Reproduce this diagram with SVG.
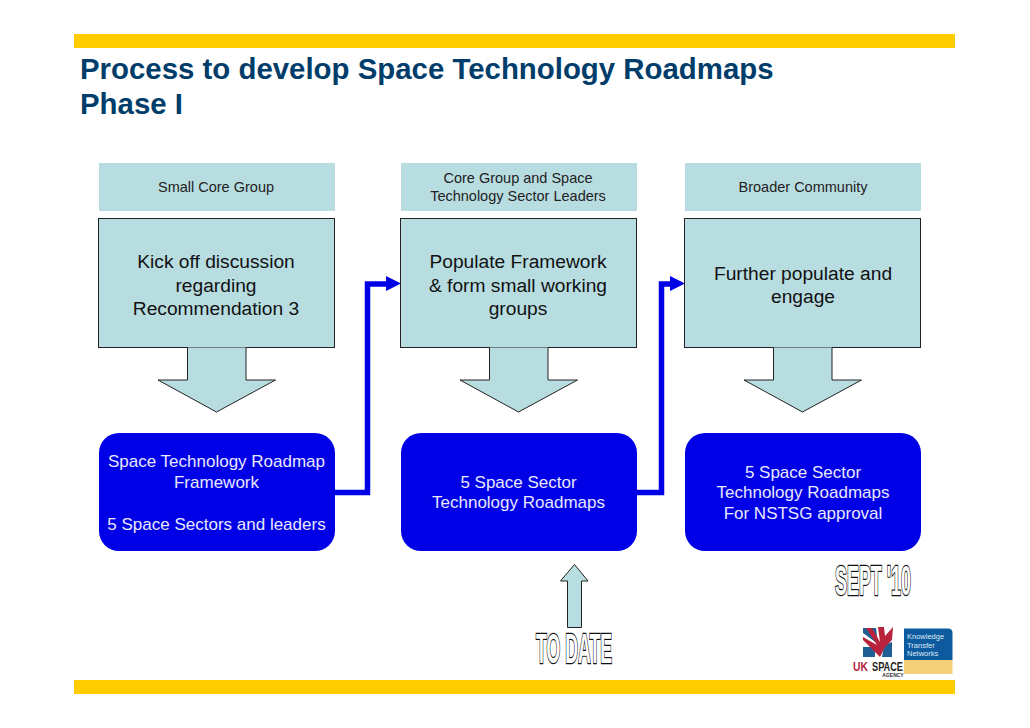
<svg xmlns="http://www.w3.org/2000/svg" width="1030" height="728" viewBox="0 0 1030 728">
<style>
text{font-family:"Liberation Sans",Arial,sans-serif;text-anchor:middle}
.bar{fill:#ffcc00}
.title{font-size:29.400px;font-weight:bold;fill:#003d6b;text-anchor:start}
.hdr{fill:#b8dde1}
.hdrt{font-size:14.500px;fill:#222}
.box{fill:#b8dde1;stroke:#222;stroke-width:1}
.boxt{font-size:19.200px;fill:#111}
.arr{fill:#b8dde1;stroke:#222;stroke-width:1}
.blue{fill:#0000e6}
.bluet{font-size:17px;fill:#e8e8ff}
.conn{fill:none;stroke:#0000e6;stroke-width:5.500}
.head{fill:#0000e6}
.stamp{font-size:42px;font-weight:bold;fill:#fff;stroke:#111;stroke-width:2.400;paint-order:stroke}
</style>
<rect width="1030" height="728" fill="#fff"/>
<g id="bars">
<rect class="bar" x="74" y="34" width="881" height="14"/>
<rect class="bar" x="74" y="680" width="881" height="14"/>
</g>
<g id="title">
<text class="title" x="80" y="79">Process to develop Space Technology Roadmaps</text>
<text class="title" x="80" y="114">Phase I</text>
</g>
<g id="connectors">
<path class="conn" d="M335 492.500H367.500V284H388"/>
<path class="head" d="M386 276L401 283.500L386 291Z"/>
<path class="conn" d="M637 492.500H661.500V284H672"/>
<path class="head" d="M670 276L685 283.500L670 291Z"/>
</g>
<g id="header-1">
<rect class="hdr" x="99" y="163" width="236" height="48"/>
<text class="hdrt" x="216" y="192">Small Core Group</text>
</g>
<g id="header-2">
<rect class="hdr" x="401" y="163" width="236" height="48"/>
<text class="hdrt" x="518" y="183">Core Group and Space</text>
<text class="hdrt" x="518" y="201">Technology Sector Leaders</text>
</g>
<g id="header-3">
<rect class="hdr" x="685" y="163" width="236" height="48"/>
<text class="hdrt" x="803" y="192">Broader Community</text>
</g>
<g id="box-1">
<rect class="box" x="98.500" y="218.500" width="236" height="129"/>
<text class="boxt" x="216" y="268">Kick off discussion</text>
<text class="boxt" x="216" y="292">regarding</text>
<text class="boxt" x="216" y="315">Recommendation 3</text>
</g>
<g id="box-2">
<rect class="box" x="400.500" y="218.500" width="236" height="129"/>
<text class="boxt" x="518" y="268">Populate Framework</text>
<text class="boxt" x="518" y="292">&amp; form small working</text>
<text class="boxt" x="518" y="315">groups</text>
</g>
<g id="box-3">
<rect class="box" x="684.500" y="218.500" width="236" height="129"/>
<text class="boxt" x="803" y="280">Further populate and</text>
<text class="boxt" x="803" y="303">engage</text>
</g>
<g id="down-1"><path class="arr" d="M187.500 347.500V380H158L216.500 412L275.500 380H246V347.500" /></g>
<g id="down-2"><path class="arr" d="M489.500 347.500V380H460L518.500 412L577.500 380H548V347.500" /></g>
<g id="down-3"><path class="arr" d="M773.500 347.500V380H744L802.500 412L861.500 380H832V347.500" /></g>
<g id="out-1">
<rect class="blue" x="99" y="433" width="236" height="118" rx="20"/>
<text class="bluet" x="216.500" y="467">Space Technology Roadmap</text>
<text class="bluet" x="216.500" y="488">Framework</text>
<text class="bluet" x="216.500" y="530">5 Space Sectors and leaders</text>
</g>
<g id="out-2">
<rect class="blue" x="401" y="433" width="236" height="118" rx="20"/>
<text class="bluet" x="518.500" y="488">5 Space Sector</text>
<text class="bluet" x="518.500" y="508">Technology Roadmaps</text>
</g>
<g id="out-3">
<rect class="blue" x="685" y="433" width="236" height="118" rx="20"/>
<text class="bluet" x="803" y="478">5 Space Sector</text>
<text class="bluet" x="803" y="498">Technology Roadmaps</text>
<text class="bluet" x="803" y="519">For NSTSG approval</text>
</g>
<g id="to-date-arrow">
<path class="arr" d="M567.500 627.500V581H560.500L574.500 564.500L588 581H581.500V627.500Z" stroke="#555"/>
<text class="stamp" x="574" y="662.500" textLength="76" lengthAdjust="spacingAndGlyphs">TO DATE</text>
</g>
<g id="sept-10">
<text class="stamp" x="873" y="595" textLength="76" lengthAdjust="spacingAndGlyphs">SEPT '10</text>
</g>
<g id="logos">
<path d="M904 628.500H948Q952.500 628.500 952.500 633V660H904Z" fill="#0d5a9e"/>
<rect x="904" y="660" width="48.500" height="14" fill="#f5cf7a"/>
<text x="907" y="639" font-size="7.500" fill="#dfeaf5" style="text-anchor:start">Knowledge</text>
<text x="907" y="648" font-size="7.500" fill="#dfeaf5" style="text-anchor:start">Transfer</text>
<text x="907" y="656" font-size="7.500" fill="#dfeaf5" style="text-anchor:start">Networks</text>
<path d="M863 628L876 628L878 644L863 633ZM863 647L875 647L875 657L863 657ZM884 645L892 642V657H882Z" fill="#1f5f95"/>
<path d="M880 657L863 640V637L877 645L866 628H872L880 642L878 627H884L885 636L893 627L892 640L885 647Z" fill="#b8243c"/>
<text x="860.500" y="671" font-size="13" font-weight="bold" fill="#b8243c" textLength="15" lengthAdjust="spacingAndGlyphs">UK</text>
<text x="887.500" y="671" font-size="13" font-weight="bold" fill="#222" textLength="31" lengthAdjust="spacingAndGlyphs">SPACE</text>
<text x="893" y="677" font-size="5" font-weight="bold" fill="#333">AGENCY</text>
</g>
</svg>
